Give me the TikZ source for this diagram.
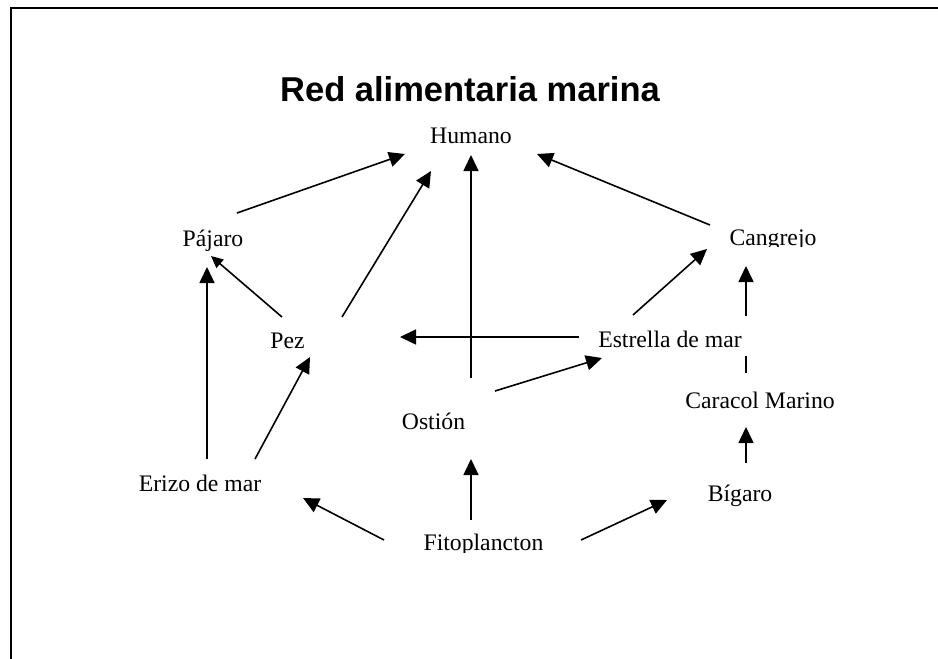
\documentclass[tikz,border=0pt]{standalone}
\usepackage{fontspec}
\setmainfont{Liberation Serif}
\newfontfamily\titlefont{Liberation Sans}
\usetikzlibrary{arrows.meta}
\begin{document}
\begin{tikzpicture}[x=1pt,y=-1pt,
  lbl/.style={font=\fontsize{23.7}{28}\selectfont, inner sep=0pt, anchor=base},
  ttl/.style={font=\titlefont\bfseries\fontsize{34.5}{40}\selectfont, inner sep=0pt, anchor=base},
  arr/.style={line width=1.6pt, -{Triangle[length=16pt,width=15pt]}},
  arrsmall/.style={line width=1.6pt, -{Triangle[length=12pt,width=11pt]}},
  ln/.style={line width=1.6pt},
  frame/.style={line width=2pt}]
\useasboundingbox (0,0) rectangle (938,659);
% frame
\coordinate (fbl) at (11,659);
\coordinate (ftl) at (11,8.3);
\coordinate (ftr) at (938,8.3);
\draw[frame] (fbl) -- (ftl) -- (ftr);

% title and labels
\node[ttl] (title) at (470,101.5) {Red alimentaria marina};
\node[lbl] (humano) at (471,143) {Humano};
\node[lbl] (pajaro) at (213,246) {Pájaro};
\node[lbl] (pez) at (287.5,348) {Pez};
\node[lbl] (estrella) at (670,347) {Estrella de mar};
\node[lbl] (ostion) at (433.5,429) {Ostión};
\node[lbl] (caracol) at (760,408) {Caracol Marino};
\node[lbl] (bigaro) at (740,501) {Bígaro};
\node[lbl] (erizo) at (200,491) {Erizo de mar};
\begin{scope}
  \clip (400,500) rectangle (570,552);
  \node[lbl] (fito) at (483.5,550) {Fitoplancton};
\end{scope}
\begin{scope}
  \clip (700,200) rectangle (840,246.5);
  \node[lbl] (cangrejo) at (773,245) {Cangrejo};
\end{scope}

% connector ends
\coordinate (pajaro-out) at (237,213);   \coordinate (humano-in1) at (405,154);
\coordinate (pez-out1) at (342,317);     \coordinate (humano-in2) at (431,171);
\coordinate (ostion-out1) at (471,378);  \coordinate (humano-in3) at (471,155);
\coordinate (cangrejo-out) at (710,225); \coordinate (humano-in4) at (537,154);
\coordinate (pez-out2) at (282,317);     \coordinate (pajaro-in1) at (211,256);
\coordinate (erizo-out1) at (207,459);   \coordinate (pajaro-in2) at (207,267);
\coordinate (erizo-out2) at (255,459);   \coordinate (pez-in1) at (310,357);
\coordinate (estrella-out1) at (579,337);\coordinate (pez-in2) at (400,337);
\coordinate (estrella-out2) at (633,315);\coordinate (cangrejo-in1) at (707,249);
\coordinate (caracol-out) at (746,373);  \coordinate (gap-low) at (746,356);
\coordinate (gap-high) at (746,316);     \coordinate (cangrejo-in2) at (746,266);
\coordinate (ostion-out2) at (495,391);  \coordinate (estrella-in) at (602,358);
\coordinate (bigaro-out) at (746,463);   \coordinate (caracol-in) at (746,427);
\coordinate (fito-out1) at (384,540);    \coordinate (erizo-in) at (303,498);
\coordinate (fito-out2) at (471,520);    \coordinate (ostion-in) at (471,459);
\coordinate (fito-out3) at (581,540);    \coordinate (bigaro-in) at (667,500);

% connectors
\draw[arr] (pajaro-out) -- (humano-in1);
\draw[arr] (pez-out1) -- (humano-in2);
\draw[arr] (ostion-out1) -- (humano-in3);
\draw[arr] (cangrejo-out) -- (humano-in4);
\draw[arrsmall] (pez-out2) -- (pajaro-in1);
\draw[arr] (erizo-out1) -- (pajaro-in2);
\draw[arr] (erizo-out2) -- (pez-in1);
\draw[arr] (estrella-out1) -- (pez-in2);
\draw[arr] (estrella-out2) -- (cangrejo-in1);
\draw[ln] (caracol-out) -- (gap-low);
\draw[arr] (gap-high) -- (cangrejo-in2);
\draw[arr] (ostion-out2) -- (estrella-in);
\draw[arr] (bigaro-out) -- (caracol-in);
\draw[arr] (fito-out1) -- (erizo-in);
\draw[arr] (fito-out2) -- (ostion-in);
\draw[arr] (fito-out3) -- (bigaro-in);
\end{tikzpicture}
\end{document}
